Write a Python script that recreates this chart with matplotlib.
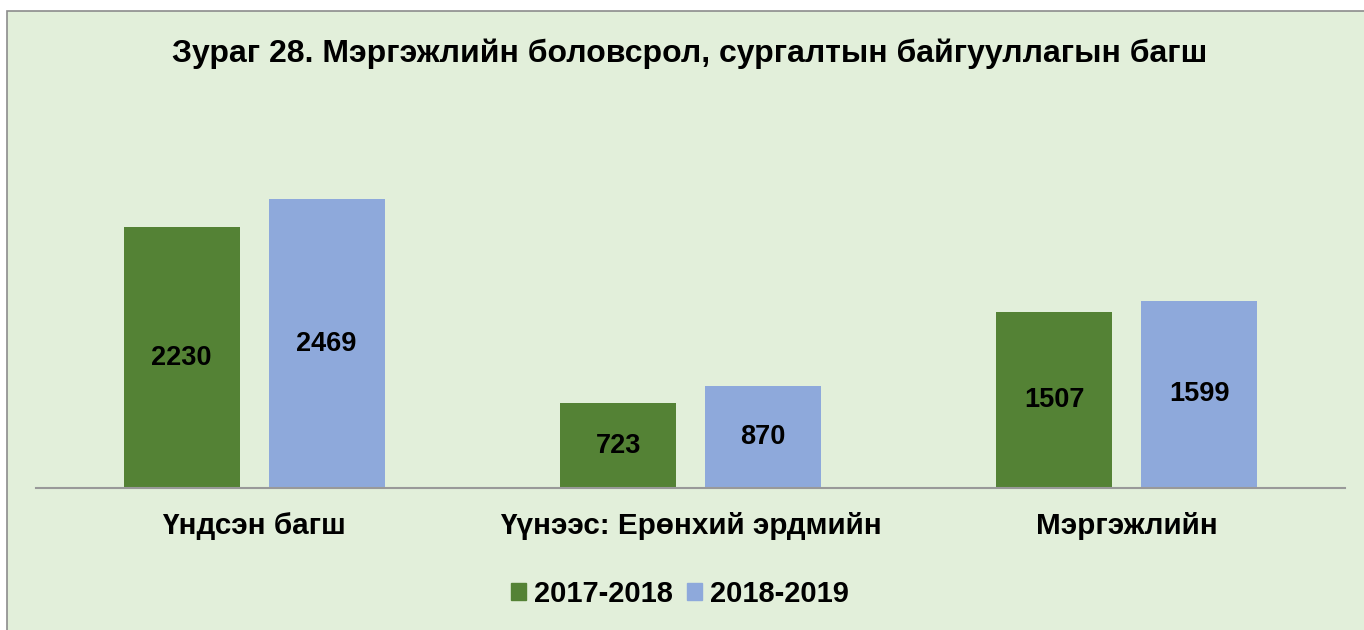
import matplotlib.pyplot as plt
import matplotlib.patches as mpatches
import numpy as np

plt.rcParams['font.family'] = ['Liberation Sans', 'DejaVu Sans']

categories = ["Үндсэн багш", "Үүнээс: Ерөнхий эрдмийн", "Мэргэжлийн"]
series_names = ["2017-2018", "2018-2019"]
values_2017 = [2230, 723, 1507]
values_2018 = [2469, 870, 1599]

green = "#548235"
blue = "#8EA9DB"
bg = "#E2EFDA"

fig = plt.figure(figsize=(13.64, 6.30), dpi=100, facecolor="white")

# chart frame (runs off the right/bottom edge like the screenshot)
frame = mpatches.Rectangle((7 / 1364, -0.1), 1.2, 1.1 - 11 / 630,
                           transform=fig.transFigure, facecolor=bg,
                           edgecolor="#8c8c8c", linewidth=1.2, zorder=-5)
fig.patches.append(frame)

ax = fig.add_axes([36 / 1364, 1 - 488 / 630, (1345 - 36) / 1364, 388 / 630])
ax.set_facecolor("none")
ax.set_zorder(2)

x = np.arange(len(categories))
w = 0.266
off = 0.166
b1 = ax.bar(x - off, values_2017, w, color=green, label=series_names[0])
b2 = ax.bar(x + off, values_2018, w, color=blue, label=series_names[1])

for bars, vals in ((b1, values_2017), (b2, values_2018)):
    for r, v in zip(bars, vals):
        ax.text(r.get_x() + r.get_width() / 2, v / 2, str(v), ha="center", va="center",
                fontsize=19.5, fontweight="bold", color="black")

ax.set_xlim(-0.5, 2.5)
ax.set_ylim(0, 3316)
ax.set_yticks([])
ax.set_xticks(x)
ax.set_xticklabels(categories, fontsize=21.3, fontweight="bold")
ax.tick_params(axis="x", length=0, pad=17)
for s in ["top", "right", "left"]:
    ax.spines[s].set_visible(False)
ax.spines["bottom"].set_color("#999999")
ax.spines["bottom"].set_linewidth(1.5)

fig.text(690 / 1364, 1 - 54 / 630, "Зураг 28. Мэргэжлийн боловсрол, сургалтын байгууллагын багш",
         ha="center", va="center", fontsize=23, fontweight="bold")

handles = [mpatches.Patch(color=green, label=series_names[0]),
           mpatches.Patch(color=blue, label=series_names[1])]
fig.legend(handles=handles, loc="center", bbox_to_anchor=(680 / 1364, 1 - 594 / 630),
           ncol=2, frameon=False, prop={"size": 21, "weight": "bold"},
           handlelength=0.5, handleheight=0.5, handletextpad=0.28, columnspacing=0.5)

fig.savefig("out.png", dpi=100, facecolor="white")
